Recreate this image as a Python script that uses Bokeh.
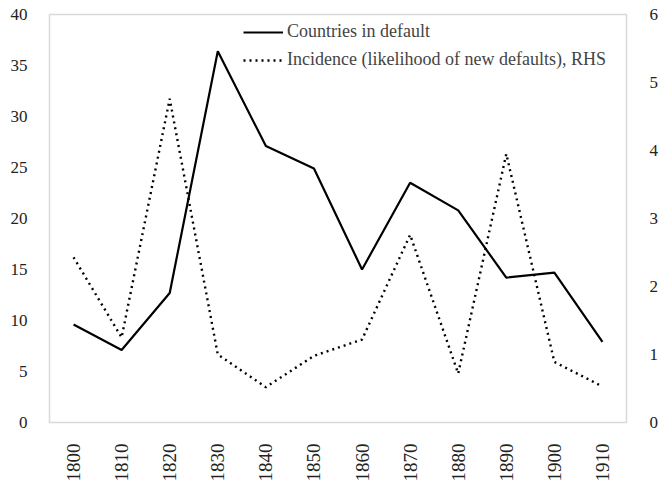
from bokeh.plotting import figure
from bokeh.models import Range1d, LinearAxis, Legend, LegendItem, FixedTicker, ColumnDataSource, FactorRange
from bokeh.embed import file_html
from bokeh.resources import INLINE

decades = ["1800", "1810", "1820", "1830", "1840", "1850", "1860", "1870", "1880", "1890", "1900", "1910"]
countries_in_default = [9.6, 7.1, 12.7, 36.4, 27.1, 24.9, 15.0, 23.5, 20.8, 14.2, 14.7, 7.9]
incidence_rhs = [2.43, 1.25, 4.76, 1.0, 0.52, 0.98, 1.22, 2.76, 0.72, 3.95, 0.89, 0.53]
left_ticks = [0, 5, 10, 15, 20, 25, 30, 35, 40]
right_ticks = [0, 1, 2, 3, 4, 5, 6]

FONT = "Liberation Serif"
TICK_SIZE = "17px"

p = figure(width=661, height=485, x_range=FactorRange(*decades), y_range=Range1d(0, 40),
           output_backend="svg", toolbar_location=None,
           min_border_left=49, min_border_right=35, min_border_top=14, min_border_bottom=63)
p.extra_y_ranges = {"rhs": Range1d(0, 6)}

src = ColumnDataSource(dict(x=decades, a=countries_in_default, b=incidence_rhs))
r1 = p.line("x", "a", source=src, line_color="black", line_width=2.2)
r2 = p.line("x", "b", source=src, y_range_name="rhs", line_color="black", line_width=2.4, line_dash="2 4")

p.xgrid.visible = False
p.ygrid.visible = False
p.outline_line_color = "#d9d9d9"
p.outline_line_width = 1.5
p.background_fill_color = "white"
p.border_fill_color = "white"

for ax in [p.xaxis[0], p.yaxis[0]]:
    ax.axis_line_color = None
    ax.major_tick_line_color = None
    ax.minor_tick_line_color = None
    ax.major_label_text_font = FONT
    ax.major_label_text_font_size = TICK_SIZE
    ax.major_label_text_color = "#222222"

p.yaxis[0].ticker = FixedTicker(ticks=left_ticks)
p.yaxis[0].major_label_standoff = 16
p.xaxis[0].major_label_orientation = 1.5708
p.xaxis[0].major_label_standoff = 15
p.xaxis[0].major_label_text_font_size = "19px"

rax = LinearAxis(y_range_name="rhs", ticker=FixedTicker(ticks=right_ticks))
rax.axis_line_color = None
rax.major_tick_line_color = None
rax.minor_tick_line_color = None
rax.major_label_text_font = FONT
rax.major_label_text_font_size = TICK_SIZE
rax.major_label_text_color = "#222222"
rax.major_label_standoff = 17
p.add_layout(rax, "right")

legend = Legend(items=[LegendItem(label="Countries in default", renderers=[r1]),
                       LegendItem(label="Incidence (likelihood of new defaults), RHS", renderers=[r2])],
                location=(194, 352), border_line_color=None, background_fill_alpha=0,
                label_text_font=FONT, label_text_font_size="18px", glyph_width=40, glyph_height=20,
                label_height=20, label_standoff=4, spacing=7, padding=0, margin=0)
p.add_layout(legend, "center")

open("out.html", "w").write(file_html(p, INLINE))
